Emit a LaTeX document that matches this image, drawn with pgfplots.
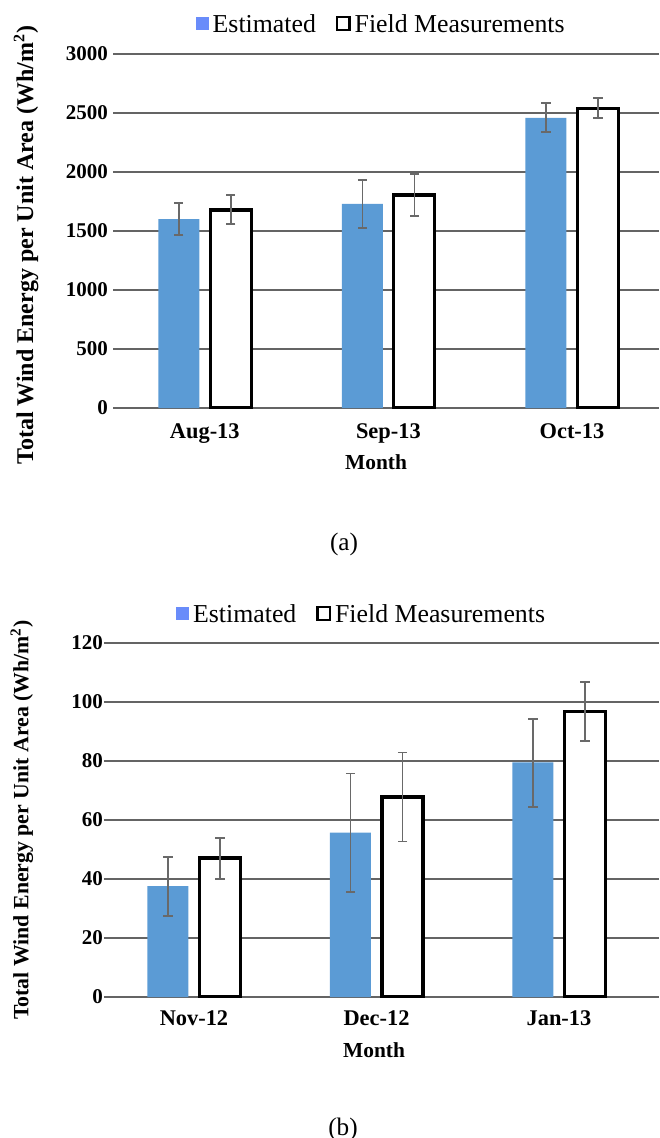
\documentclass[border=0pt]{standalone}
\usepackage{fontspec}
\setmainfont{Liberation Serif}
\usepackage{pgfplots}
\pgfplotsset{compat=1.18}
\definecolor{barblue}{RGB}{91,155,213}
\definecolor{legblue}{RGB}{105,140,250}
\definecolor{errgray}{RGB}{105,105,105}
\definecolor{gridgray}{RGB}{100,100,100}
\pgfplotsset{
  mybars/.style={
    scale only axis, ybar, bar width=20.5pt,
    xtick={0,1,2},
    axis line style={draw=none},
    major tick length=0pt,
    ymajorgrids, grid style={gridgray, line width=1.15pt},
    /pgf/number format/assume math mode=true,
    /pgf/number format/1000 sep={},
    yticklabel style={font=\fontsize{10.5}{12}\selectfont\bfseries},
    xticklabel style={font=\fontsize{11.2}{12}\selectfont\bfseries},
    error bars/y dir=both, error bars/y explicit,
    error bars/error bar style={errgray, line width=0.85pt},
    error bars/error mark options={rotate=90, errgray, mark size=2.3pt, line width=0.85pt},
    legend columns=2,
    legend style={draw=none, fill=none, font=\fontsize{12.9}{14}\selectfont, inner sep=0pt,
      /tikz/every even column/.append style={column sep=8pt}},
  },
  estbar/.style={fill=barblue, draw=none, bar shift=-13pt,
    legend image code/.code={\fill[legblue] (0pt,-2.5pt) rectangle (6.5pt,4pt);}},
  fieldbar/.style={fill=white, draw=black, line width=1.6pt, bar shift=13pt,
    legend image code/.code={\filldraw[fill=white, draw=black, line width=1.2pt] (0.6pt,-2.4pt) rectangle (6.8pt,4pt);}},
}
\begin{document}
\begin{tikzpicture}
\path[use as bounding box] (0,0) rectangle (329.5pt,-569pt);
% ---------- (a)
\begin{axis}[mybars,
  at={(56.5pt,-204pt)}, anchor=south west,
  width=273pt, height=177pt,
  xmin=-0.5, xmax=2.474, ymin=0, ymax=3000,
  ytick={0,500,1000,1500,2000,2500,3000},
  xticklabels={Aug-13,Sep-13,Oct-13},
  xticklabel style={yshift=-4.5pt},
  yticklabel style={xshift=1pt},
  xlabel={Month},
  xlabel style={at={(axis description cs:0.4817,0)}, anchor=center, yshift=-27pt, font=\fontsize{10.7}{12}\selectfont\bfseries},
  ylabel={Total Wind Energy per Unit Area (Wh/m\textsuperscript{2})},
  ylabel style={at={(axis description cs:-0.159,0.46)}, anchor=center, font=\fontsize{12}{13}\selectfont\bfseries},
  legend style={at={(axis description cs:0.493,1.082)}, anchor=center},
]
\addplot[estbar] coordinates {
  (0,1601) += (0,136) -= (0,135)
  (1,1729) += (0,203) -= (0,204)
  (2,2458) += (0,125) -= (0,122)
};
\addplot[fieldbar] coordinates {
  (0,1678) += (0,127) -= (0,119)
  (1,1805) += (0,180) -= (0,175)
  (2,2540) += (0,87) -= (0,85)
};
\legend{Estimated, Field Measurements}
\end{axis}
\node[font=\fontsize{12.6}{14}\selectfont] at (172pt,-272pt) {(a)};
% ---------- (b)
\begin{axis}[mybars,
  at={(52pt,-498.5pt)}, anchor=south west,
  width=277.5pt, height=177pt,
  xmin=-0.493, xmax=2.548, ymin=0, ymax=120,
  ytick={0,20,40,60,80,100,120},
  xticklabels={Nov-12,Dec-12,Jan-13},
  xticklabel style={yshift=-3.5pt},
  yticklabel style={xshift=3pt},
  xlabel={Month},
  xlabel style={at={(axis description cs:0.4865,0)}, anchor=center, yshift=-26.5pt, font=\fontsize{10.7}{12}\selectfont\bfseries},
  ylabel={Total Wind Energy per Unit Area (Wh/m\textsuperscript{2})},
  ylabel style={at={(axis description cs:-0.148,0.5)}, anchor=center, font=\fontsize{10.9}{12}\selectfont\bfseries},
  legend style={at={(axis description cs:0.466,1.079)}, anchor=center},
]
\addplot[estbar] coordinates {
  (0,37.6) += (0,9.9) -= (0,10.1)
  (1,55.7) += (0,20.1) -= (0,20.1)
  (2,79.5) += (0,14.7) -= (0,15.1)
};
\addplot[fieldbar] coordinates {
  (0,47.1) += (0,6.8) -= (0,7.1)
  (1,67.8) += (0,15.1) -= (0,15.1)
  (2,96.7) += (0,10.0) -= (0,9.8)
};
\legend{Estimated, Field Measurements}
\end{axis}
\node[font=\fontsize{12.6}{14}\selectfont] at (171.5pt,-564.5pt) {(b)};
\end{tikzpicture}
\end{document}
